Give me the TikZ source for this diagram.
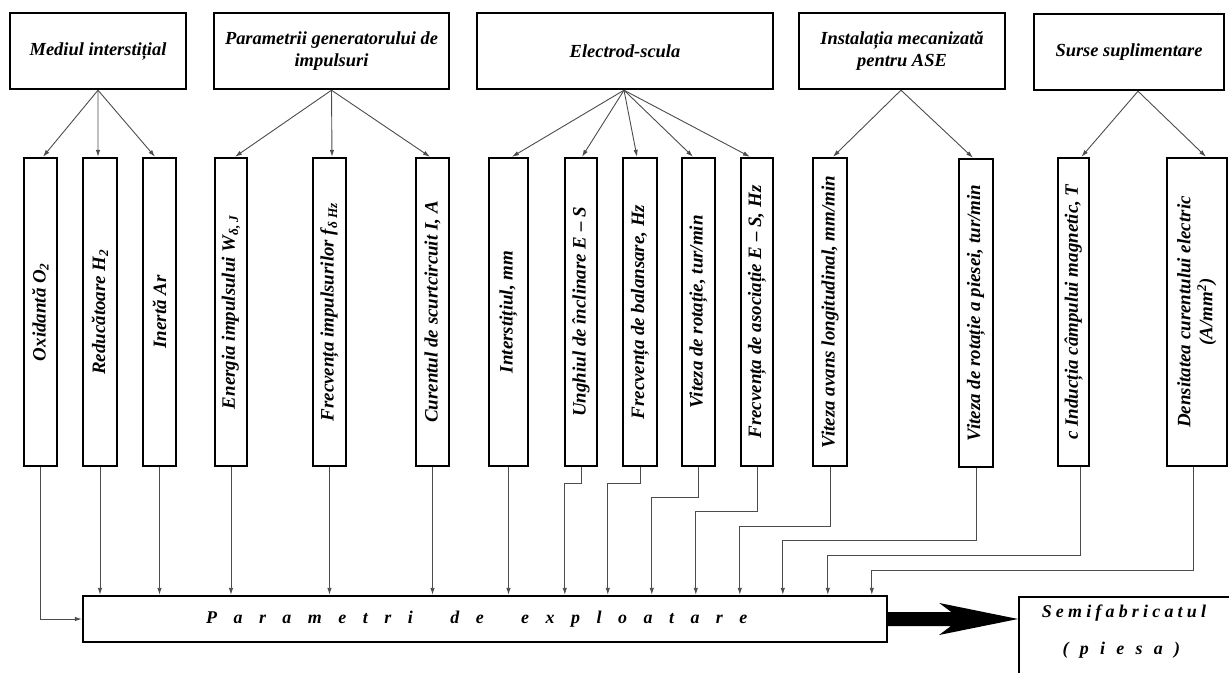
\documentclass[tikz,border=0pt]{standalone}
\usepackage{fontspec}
\setmainfont{Liberation Serif}
\usetikzlibrary{arrows.meta}

% letter-spaced text: \spacedtext Word~word\relax, gap set by \spgap
\newlength\spgap
\def\spacedtext#1{\ifx#1\relax\else#1\kern\spgap\expandafter\spacedtext\fi}

\begin{document}
\begin{tikzpicture}[x=1bp,y=-1bp,
  topbox/.style={draw, line width=2.4bp, inner sep=0pt, align=center,
    minimum height=76bp, font=\fontsize{18.5}{22}\selectfont\bfseries\itshape},
  colbox/.style={draw, line width=2.4bp, inner sep=0pt, minimum height=308bp,
    font=\fontsize{19}{22}\selectfont\bfseries\itshape},
  bigbox/.style={draw, line width=2.4bp, inner sep=0pt},
  spaced/.style={inner sep=0pt, font=\fontsize{18}{22}\selectfont\bfseries\itshape},
  conn/.style={draw=black!70, line width=0.9bp, -{Latex[length=7bp,width=4.5bp]}},
]
\useasboundingbox (0,0) rectangle (1229,673);

% ---- top-level groups
\node[topbox, minimum width=176bp] (t1) at (98,51)    {Mediul interstițial};
\node[topbox, minimum width=235bp] (t2) at (331.5,51) {Parametrii generatorului de\\impulsuri};
\node[topbox, minimum width=296bp] (t3) at (625,51)   {Electrod-scula};
\node[topbox, minimum width=206bp] (t4) at (902,51)   {Instalația mecanizată\\pentru ASE};
\node[topbox, minimum width=190bp] (t5) at (1129,52)  {Surse suplimentare};

% ---- individual parameters (vertical columns)
\node[colbox, minimum width=33bp] (vO) at (40.5,312)  {\rotatebox{90}{Oxidantă O\textsubscript{2}}};
\node[colbox, minimum width=34bp] (vR) at (100,312)   {\rotatebox{90}{Reducătoare H\textsubscript{2}}};
\node[colbox, minimum width=33bp] (vI) at (159.5,312) {\rotatebox{90}{Inertă Ar}};
\node[colbox, minimum width=32bp] (vE) at (231,312)   {\rotatebox{90}{Energia impulsului W\textsubscript{δ, J}}};
\node[colbox, minimum width=33bp] (vF) at (329.5,312) {\rotatebox{90}{Frecvența impulsurilor f\textsubscript{δ Hz}}};
\node[colbox, minimum width=33bp] (vC) at (432.5,312) {\rotatebox{90}{Curentul de scurtcircuit I, A}};
\node[colbox, minimum width=39bp] (vS) at (508.5,312) {\rotatebox{90}{Interstițiul, mm}};
\node[colbox, minimum width=32bp] (vU) at (581,312)   {\rotatebox{90}{Unghiul de înclinare E – S}};
\node[colbox, minimum width=34bp] (vB) at (640,312)   {\rotatebox{90}{Frecvența de balansare, Hz}};
\node[colbox, minimum width=33bp] (vV) at (698.5,312) {\rotatebox{90}{Viteza de rotație, tur/min}};
\node[colbox, minimum width=32bp] (vA) at (757,312)   {\rotatebox{90}{Frecvența de asociație E – S, Hz}};
\node[colbox, minimum width=34bp] (vL) at (830,312)   {\rotatebox{90}{Viteza avans longitudinal, mm/min}};
\node[colbox, minimum width=34bp] (vP) at (976,313)   {\rotatebox{90}{Viteza de rotație a piesei, tur/min}};
\node[colbox, minimum width=31bp] (vM) at (1073.5,312){\rotatebox{90}{c Inducția câmpului magnetic, T}};
\node[colbox, minimum width=60bp] (vD) at (1197,312)  {\rotatebox{90}{\begin{tabular}{@{}c@{}}Densitatea curentului electric\\(A/mm\textsuperscript{2})\end{tabular}}};

% ---- collecting block and result
\node[bigbox, minimum width=804bp, minimum height=46bp, spaced] (param) at (485,619)
  {\setlength\spgap{16.5bp}\spacedtext Parametri~de~exploatare\relax};

\begin{scope}
  \clip (0,0) rectangle (1229,673);
  \node[bigbox, minimum width=260bp, minimum height=120bp, anchor=north west] (semi) at (1018,596) {};
\end{scope}
\node[spaced] (semiA) at (1126,613) {\setlength\spgap{4.2bp}\spacedtext Semifabricatul\relax};
\node[spaced] (semiB) at (1127,650) {\setlength\spgap{11.3bp}\spacedtext (piesa)\relax};

% ---- thick output arrow
\fill (param.east) ++(0,-7) -- ++(63,0) -- ++(-12,-9) -- (param.east -| semi.west)
  -- ++(-79,16) -- ++(12,-9) -- ++(-63,0) -- cycle;

% ---- group -> parameter arrows
\draw[conn] (t1.south) -- ([xshift=2.5bp]vO.north);
\draw[conn] (t1.south) -- ([xshift=-2bp]vR.north);
\draw[conn] (t1.south) -- ([xshift=-4.5bp]vI.north);
\draw[conn] (t2.south) -- ([xshift=4bp]vE.north);
\draw[conn] (t2.south) -- ([xshift=2.5bp]vF.north);
\draw[conn] (t2.south) -- ([xshift=-2.5bp]vC.north);
\draw[conn] ([xshift=-1bp]t3.south) -- ([xshift=3.5bp]vS.north);
\draw[conn] ([xshift=-1bp]t3.south) -- ([xshift=1bp]vU.north);
\draw[conn] ([xshift=-1bp]t3.south) -- ([xshift=-3bp]vB.north);
\draw[conn] ([xshift=-1bp]t3.south) -- ([xshift=-5.5bp]vV.north);
\draw[conn] ([xshift=-1bp]t3.south) -- ([xshift=-7bp]vA.north);
\draw[conn] ([xshift=-1bp]t4.south) -- ([xshift=3bp]vL.north);
\draw[conn] ([xshift=-1bp]t4.south) -- ([xshift=-3bp]vP.north);
\draw[conn] ([xshift=9bp]t5.south) -- ([xshift=8bp]vM.north);
\draw[conn] ([xshift=9bp]t5.south) -- ([xshift=9bp]vD.north);

% ---- parameter -> collecting block
\draw[conn] (vO.south) |- (param.west);
\draw[conn] (vR.south) -- (vR.south |- param.north);
\draw[conn] (vI.south) -- (vI.south |- param.north);
\draw[conn] (vE.south) -- (vE.south |- param.north);
\draw[conn] (vF.south) -- (vF.south |- param.north);
\draw[conn] (vC.south) -- (vC.south |- param.north);
\draw[conn] (vS.south) -- (vS.south |- param.north);
\draw[conn] (vU.south) -- ++(0,16)  -| ([xshift=483bp]param.north west);
\draw[conn] (vB.south) -- ++(0,16)  -| ([xshift=526bp]param.north west);
\draw[conn] (vV.south) -- ++(0,30)  -| ([xshift=570bp]param.north west);
\draw[conn] (vA.south) -- ++(0,44)  -| ([xshift=614bp]param.north west);
\draw[conn] (vL.south) -- ++(0,59)  -| ([xshift=658bp]param.north west);
\draw[conn] (vP.south) -- ++(0,72)  -| ([xshift=701bp]param.north west);
\draw[conn] ([xshift=6.5bp]vM.south) -- ++(0,88)  -| ([xshift=746bp]param.north west);
\draw[conn] ([xshift=-4bp]vD.south)  -- ++(0,103) -| ([xshift=790bp]param.north west);
\end{tikzpicture}
\end{document}
